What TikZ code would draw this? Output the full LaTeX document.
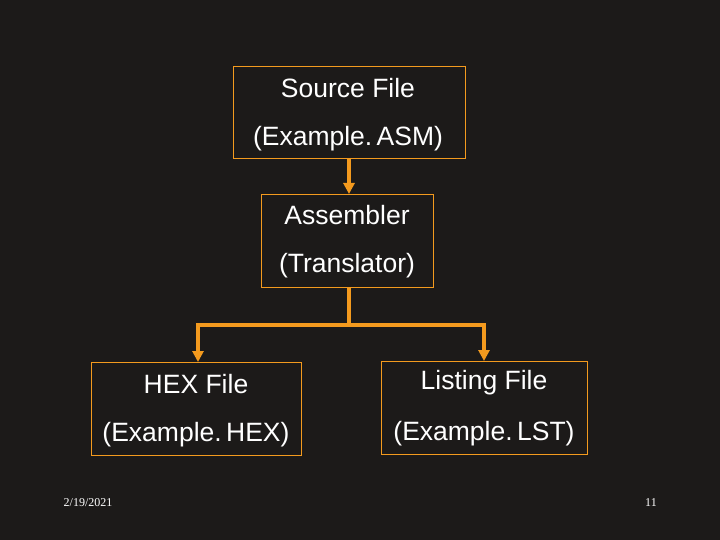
\documentclass[tikz,border=0pt]{standalone}
\usepackage{fontspec}
\setmainfont{Liberation Sans}
\newfontfamily\serifA{Liberation Serif}
\usetikzlibrary{arrows.meta}
\definecolor{bg}{HTML}{1C1A19}
\definecolor{org}{HTML}{F39A1E}
\tikzset{box/.style={draw=org,line width=0.8pt},
lbl/.style={text=white,font=\fontsize{26.5}{30}\selectfont,inner sep=0pt},
conn/.style={draw=org,line width=3.5pt},
arr/.style={conn,-{Triangle[length=11pt,width=11pt]}},
small/.style={text=white,font=\serifA\fontsize{12}{14}\selectfont}}
\begin{document}
\begin{tikzpicture}[x=1pt,y=-1pt]
\fill[bg] (0,0) rectangle (720,540);
\useasboundingbox (0,0) rectangle (720,540);
\draw[box] (233,66) rectangle (465,158);
\draw[box] (261,194) rectangle (433,287);
\draw[box] (91,362) rectangle (301,455);
\draw[box] (381,361) rectangle (587,454);
\coordinate (b1) at (349,158); \coordinate (t2) at (349,194);
\coordinate (b2) at (349,287); \coordinate (j) at (349,325);
\coordinate (l) at (198,325); \coordinate (r) at (484,325);
\coordinate (t3) at (198,362); \coordinate (t4) at (484,361);
\node[lbl] (s1) at (348,88) {Source File};
\node[lbl] (s2) at (348,139) {(Example.\,ASM)};
\node[lbl] (a1) at (347,215) {Assembler};
\node[lbl] (a2) at (347,266) {(Translator)};
\node[lbl] (h1) at (196,384) {HEX File};
\node[lbl] (h2) at (196,435) {(Example.\,HEX)};
\node[lbl] (l1) at (484,383) {Listing File};
\node[lbl] (l2) at (484,434) {(Example.\,LST)};
\draw[arr] (b1) -- (t2);
\draw[conn] (b2) -- (j);
\draw[conn,line cap=rect] (l) -- (r);
\draw[arr] (l) -- (t3);
\draw[arr] (r) -- (t4);
\node[small] (d) at (88,503) {2/19/2021};
\node[small] (n) at (651,503) {11};
\end{tikzpicture}
\end{document}
